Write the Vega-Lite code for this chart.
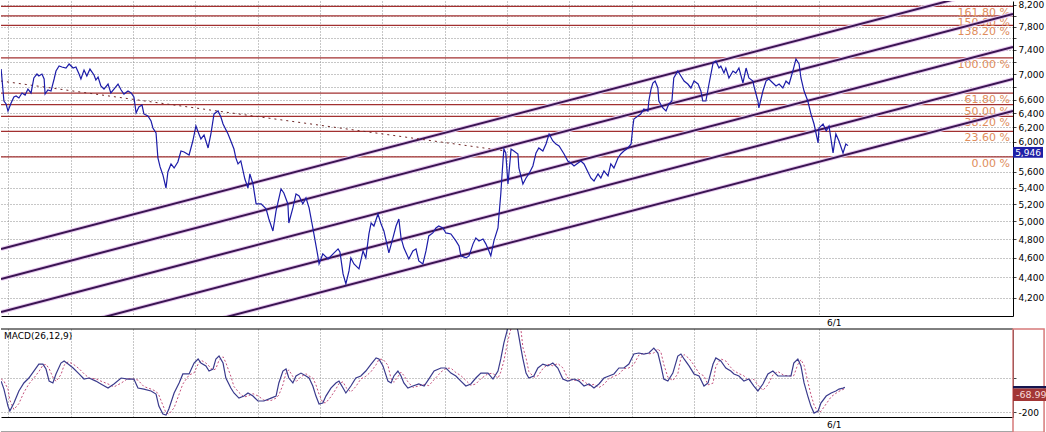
{
"$schema":"https://vega.github.io/schema/vega-lite/v6.json",
"padding":0,
"background":"white",
"spacing":13,
"bounds":"flush",
"config":{"view":{"stroke":null},"font":"DejaVu Sans","axis":{"labelFont":"DejaVu Sans"},"text":{"font":"DejaVu Sans"}},
"resolve":{"scale":{"x":"independent","y":"independent"}},
"datasets":{
"price":[{"t":-2.3,"price":7083},{"t":-1.4,"price":6584},{"t":-0.7,"price":6539},{"t":-0.1,"price":6435},{"t":0.9,"price":6554},{"t":1.8,"price":6645},{"t":2.5,"price":6660},{"t":3.4,"price":6630},{"t":4.4,"price":6706},{"t":5.4,"price":6675},{"t":6.3,"price":6767},{"t":7.3,"price":6706},{"t":8.2,"price":6940},{"t":9.2,"price":7003},{"t":9.8,"price":6971},{"t":10.8,"price":7003},{"t":11.5,"price":6924},{"t":11.8,"price":6690},{"t":12.7,"price":6752},{"t":13.7,"price":6736},{"t":14.7,"price":6924},{"t":15.3,"price":7051},{"t":16.3,"price":7132},{"t":17.2,"price":7116},{"t":18.5,"price":7100},{"t":19.5,"price":7165},{"t":20.8,"price":7100},{"t":21.7,"price":7116},{"t":22.7,"price":7003},{"t":23.3,"price":6924},{"t":24.3,"price":7067},{"t":25.2,"price":6971},{"t":26.2,"price":7083},{"t":27.5,"price":6987},{"t":28.1,"price":6908},{"t":28.8,"price":6956},{"t":29.7,"price":6814},{"t":30.7,"price":6767},{"t":32.0,"price":6845},{"t":32.9,"price":6706},{"t":33.9,"price":6767},{"t":35.2,"price":6845},{"t":36.2,"price":6752},{"t":37.1,"price":6690},{"t":38.4,"price":6736},{"t":39.4,"price":6706},{"t":40.3,"price":6645},{"t":41.0,"price":6406},{"t":41.9,"price":6495},{"t":42.9,"price":6524},{"t":43.5,"price":6392},{"t":44.8,"price":6362},{"t":45.8,"price":6290},{"t":46.4,"price":6191},{"t":47.4,"price":6120},{"t":48.0,"price":5781},{"t":48.7,"price":5663},{"t":49.6,"price":5560},{"t":50.6,"price":5397},{"t":51.2,"price":5598},{"t":52.2,"price":5702},{"t":53.2,"price":5650},{"t":54.4,"price":5728},{"t":55.4,"price":5873},{"t":56.4,"price":5860},{"t":58.0,"price":5820},{"t":59.2,"price":6009},{"t":60.2,"price":6219},{"t":60.9,"price":6134},{"t":61.8,"price":6037},{"t":62.8,"price":6092},{"t":64.1,"price":5914},{"t":65.0,"price":6106},{"t":66.0,"price":6392},{"t":67.3,"price":6435},{"t":68.2,"price":6348},{"t":68.9,"price":6247},{"t":70.5,"price":6106},{"t":71.4,"price":6009},{"t":72.4,"price":5900},{"t":73.0,"price":5781},{"t":73.7,"price":5702},{"t":74.6,"price":5741},{"t":75.9,"price":5509},{"t":76.9,"price":5397},{"t":77.5,"price":5573},{"t":78.5,"price":5447},{"t":79.5,"price":5204},{"t":81.1,"price":5204},{"t":82.7,"price":5145},{"t":83.6,"price":5028},{"t":84.9,"price":4892},{"t":85.9,"price":5121},{"t":87.5,"price":5385},{"t":88.4,"price":5336},{"t":89.7,"price":5204},{"t":90.0,"price":4982},{"t":91.3,"price":5157},{"t":92.3,"price":5324},{"t":93.3,"price":5300},{"t":94.5,"price":5204},{"t":95.5,"price":5276},{"t":96.5,"price":5157},{"t":97.7,"price":4926},{"t":99.3,"price":4621},{"t":99.7,"price":4537},{"t":100.9,"price":4642},{"t":102.6,"price":4589},{"t":104.2,"price":4642},{"t":105.8,"price":4696},{"t":106.4,"price":4663},{"t":107.4,"price":4435},{"t":108.3,"price":4335},{"t":109.3,"price":4465},{"t":109.9,"price":4600},{"t":110.9,"price":4537},{"t":112.5,"price":4486},{"t":113.8,"price":4674},{"t":114.7,"price":4600},{"t":115.7,"price":4859},{"t":116.4,"price":4982},{"t":117.3,"price":4948},{"t":118.6,"price":5086},{"t":119.6,"price":4971},{"t":120.5,"price":4892},{"t":122.1,"price":4653},{"t":123.4,"price":4815},{"t":124.4,"price":4948},{"t":125.3,"price":5028},{"t":126.0,"price":4815},{"t":126.9,"price":4707},{"t":128.5,"price":4589},{"t":129.8,"price":4674},{"t":130.8,"price":4696},{"t":131.7,"price":4568},{"t":133.0,"price":4537},{"t":134.0,"price":4674},{"t":134.9,"price":4837},{"t":136.2,"price":4870},{"t":137.2,"price":4926},{"t":138.1,"price":4948},{"t":139.4,"price":4926},{"t":140.4,"price":4870},{"t":142.0,"price":4859},{"t":143.6,"price":4782},{"t":144.6,"price":4728},{"t":145.2,"price":4621},{"t":146.8,"price":4600},{"t":147.8,"price":4621},{"t":149.1,"price":4750},{"t":150.0,"price":4815},{"t":151.0,"price":4782},{"t":152.3,"price":4804},{"t":153.2,"price":4750},{"t":154.2,"price":4674},{"t":154.8,"price":4621},{"t":155.8,"price":4782},{"t":157.1,"price":4926},{"t":157.4,"price":5063},{"t":158.0,"price":5324},{"t":158.7,"price":5741},{"t":159.0,"price":5900},{"t":159.6,"price":5847},{"t":160.3,"price":5447},{"t":160.6,"price":5573},{"t":161.3,"price":5900},{"t":162.2,"price":5873},{"t":163.5,"price":5833},{"t":163.8,"price":5650},{"t":165.1,"price":5447},{"t":166.1,"price":5522},{"t":167.0,"price":5573},{"t":168.3,"price":5676},{"t":169.3,"price":5847},{"t":170.2,"price":5914},{"t":171.5,"price":5873},{"t":172.5,"price":5968},{"t":173.5,"price":6106},{"t":174.7,"price":6009},{"t":175.7,"price":5968},{"t":176.7,"price":5941},{"t":178.3,"price":5833},{"t":179.5,"price":5741},{"t":180.5,"price":5715},{"t":181.5,"price":5676},{"t":182.8,"price":5715},{"t":183.7,"price":5741},{"t":184.7,"price":5702},{"t":186.9,"price":5522},{"t":187.9,"price":5484},{"t":189.2,"price":5573},{"t":190.1,"price":5522},{"t":191.1,"price":5611},{"t":192.4,"price":5547},{"t":193.3,"price":5702},{"t":194.3,"price":5650},{"t":195.6,"price":5781},{"t":196.5,"price":5833},{"t":197.5,"price":5873},{"t":198.8,"price":5914},{"t":199.8,"price":5968},{"t":200.4,"price":6219},{"t":200.7,"price":6319},{"t":202.0,"price":6362},{"t":202.9,"price":6392},{"t":203.9,"price":6465},{"t":205.2,"price":6435},{"t":205.5,"price":6584},{"t":206.2,"price":6767},{"t":206.8,"price":6861},{"t":207.5,"price":6892},{"t":208.4,"price":6783},{"t":208.7,"price":6584},{"t":210.0,"price":6480},{"t":211.0,"price":6435},{"t":211.9,"price":6539},{"t":212.9,"price":6584},{"t":213.5,"price":6940},{"t":214.8,"price":7051},{"t":215.8,"price":6971},{"t":216.8,"price":6892},{"t":218.0,"price":6845},{"t":219.0,"price":6783},{"t":220.0,"price":6892},{"t":221.3,"price":6845},{"t":222.2,"price":6736},{"t":222.8,"price":6584},{"t":223.8,"price":6584},{"t":224.8,"price":6845},{"t":226.1,"price":7181},{"t":227.0,"price":7214},{"t":228.0,"price":7100},{"t":228.6,"price":7132},{"t":229.6,"price":7019},{"t":230.2,"price":7100},{"t":231.2,"price":6940},{"t":232.5,"price":7051},{"t":233.4,"price":7019},{"t":234.4,"price":7100},{"t":235.7,"price":6861},{"t":236.7,"price":7100},{"t":237.6,"price":6940},{"t":238.9,"price":6892},{"t":239.2,"price":6814},{"t":240.5,"price":6584},{"t":240.8,"price":6480},{"t":242.1,"price":6736},{"t":243.1,"price":6892},{"t":244.0,"price":6924},{"t":245.3,"price":6861},{"t":246.3,"price":6814},{"t":247.3,"price":6845},{"t":248.5,"price":6783},{"t":249.5,"price":6892},{"t":250.5,"price":6845},{"t":251.7,"price":7051},{"t":252.7,"price":7247},{"t":253.7,"price":7165},{"t":254.3,"price":6940},{"t":255.3,"price":6736},{"t":256.5,"price":6584},{"t":257.5,"price":6392},{"t":258.5,"price":6247},{"t":259.8,"price":5982},{"t":260.1,"price":6191},{"t":261.4,"price":6247},{"t":262.4,"price":6148},{"t":263.3,"price":6219},{"t":264.6,"price":5847},{"t":265.5,"price":6106},{"t":266.5,"price":6009},{"t":267.8,"price":5847},{"t":268.7,"price":5968},{"t":269.4,"price":5946}],
"macd":[{"t":-2.3,"macd":-18,"signal":-5},{"t":-1.4,"macd":-65,"signal":-18},{"t":-0.1,"macd":-165,"signal":-65},{"t":0.5,"macd":-194,"signal":-130},{"t":1.8,"macd":-147,"signal":-185},{"t":3.4,"macd":-76,"signal":-150},{"t":5.0,"macd":-29,"signal":-85},{"t":6.6,"macd":0,"signal":-35},{"t":8.2,"macd":41,"signal":0},{"t":9.8,"macd":82,"signal":38},{"t":11.1,"macd":82,"signal":75},{"t":12.1,"macd":53,"signal":80},{"t":13.1,"macd":-18,"signal":55},{"t":14.3,"macd":-29,"signal":5},{"t":15.3,"macd":24,"signal":-20},{"t":16.9,"macd":88,"signal":20},{"t":17.9,"macd":100,"signal":75},{"t":19.2,"macd":82,"signal":95},{"t":20.8,"macd":59,"signal":82},{"t":22.7,"macd":24,"signal":55},{"t":24.3,"macd":-6,"signal":25},{"t":25.9,"macd":0,"signal":0},{"t":28.1,"macd":-18,"signal":-5},{"t":29.7,"macd":-35,"signal":-18},{"t":32.0,"macd":-59,"signal":-35},{"t":33.9,"macd":-35,"signal":-52},{"t":36.2,"macd":0,"signal":-30},{"t":38.4,"macd":-6,"signal":-3},{"t":40.3,"macd":-6,"signal":-6},{"t":41.6,"macd":-59,"signal":-12},{"t":43.5,"macd":-65,"signal":-50},{"t":45.8,"macd":-76,"signal":-65},{"t":47.4,"macd":-94,"signal":-78},{"t":48.3,"macd":-165,"signal":-100},{"t":49.6,"macd":-212,"signal":-160},{"t":50.6,"macd":-218,"signal":-205},{"t":51.5,"macd":-182,"signal":-212},{"t":53.2,"macd":-88,"signal":-175},{"t":54.8,"macd":-29,"signal":-95},{"t":56.0,"macd":24,"signal":-35},{"t":58.0,"macd":24,"signal":18},{"t":59.6,"macd":88,"signal":30},{"t":60.9,"macd":112,"signal":82},{"t":61.8,"macd":88,"signal":105},{"t":63.4,"macd":71,"signal":88},{"t":64.4,"macd":41,"signal":70},{"t":65.7,"macd":53,"signal":45},{"t":66.6,"macd":112,"signal":55},{"t":67.6,"macd":129,"signal":105},{"t":68.9,"macd":88,"signal":125},{"t":69.8,"macd":0,"signal":90},{"t":71.4,"macd":-59,"signal":10},{"t":72.4,"macd":-88,"signal":-50},{"t":74.0,"macd":-118,"signal":-85},{"t":75.6,"macd":-106,"signal":-112},{"t":76.9,"macd":-88,"signal":-105},{"t":78.5,"macd":-106,"signal":-92},{"t":80.1,"macd":-135,"signal":-105},{"t":82.0,"macd":-135,"signal":-130},{"t":84.3,"macd":-118,"signal":-132},{"t":85.9,"macd":-106,"signal":-118},{"t":86.8,"macd":-29,"signal":-100},{"t":88.1,"macd":41,"signal":-40},{"t":89.1,"macd":53,"signal":30},{"t":90.0,"macd":0,"signal":48},{"t":91.3,"macd":-29,"signal":8},{"t":92.3,"macd":12,"signal":-22},{"t":93.9,"macd":29,"signal":8},{"t":95.5,"macd":12,"signal":25},{"t":96.5,"macd":0,"signal":12},{"t":97.7,"macd":-47,"signal":0},{"t":98.7,"macd":-106,"signal":-40},{"t":99.7,"macd":-153,"signal":-95},{"t":100.9,"macd":-147,"signal":-145},{"t":101.9,"macd":-106,"signal":-145},{"t":103.5,"macd":-59,"signal":-110},{"t":105.1,"macd":-29,"signal":-65},{"t":106.1,"macd":-18,"signal":-32},{"t":107.4,"macd":-59,"signal":-22},{"t":108.3,"macd":-88,"signal":-55},{"t":109.9,"macd":-47,"signal":-82},{"t":111.5,"macd":0,"signal":-50},{"t":113.1,"macd":12,"signal":-5},{"t":114.7,"macd":41,"signal":10},{"t":116.4,"macd":82,"signal":38},{"t":118.0,"macd":118,"signal":78},{"t":118.9,"macd":112,"signal":110},{"t":120.2,"macd":71,"signal":110},{"t":121.8,"macd":-18,"signal":75},{"t":122.8,"macd":-29,"signal":-5},{"t":123.7,"macd":12,"signal":-25},{"t":125.0,"macd":41,"signal":8},{"t":126.0,"macd":12,"signal":35},{"t":126.9,"macd":-29,"signal":15},{"t":128.2,"macd":-59,"signal":-22},{"t":129.8,"macd":-47,"signal":-55},{"t":131.7,"macd":-35,"signal":-47},{"t":133.4,"macd":-47,"signal":-37},{"t":134.9,"macd":-6,"signal":-45},{"t":136.6,"macd":41,"signal":-10},{"t":138.8,"macd":59,"signal":35},{"t":140.4,"macd":59,"signal":57},{"t":142.0,"macd":29,"signal":58},{"t":143.6,"macd":12,"signal":32},{"t":145.2,"macd":-18,"signal":14},{"t":146.8,"macd":-47,"signal":-14},{"t":148.4,"macd":-35,"signal":-43},{"t":150.0,"macd":0,"signal":-35},{"t":151.6,"macd":29,"signal":-4},{"t":153.9,"macd":29,"signal":25},{"t":155.5,"macd":-6,"signal":28},{"t":157.1,"macd":41,"signal":-2},{"t":158.0,"macd":112,"signal":35},{"t":159.0,"macd":206,"signal":100},{"t":160.0,"macd":276,"signal":195},{"t":160.9,"macd":365,"signal":265},{"t":162.2,"macd":365,"signal":350},{"t":163.5,"macd":276,"signal":360},{"t":164.5,"macd":171,"signal":280},{"t":165.1,"macd":112,"signal":180},{"t":166.1,"macd":29,"signal":118},{"t":167.0,"macd":0,"signal":38},{"t":168.6,"macd":12,"signal":5},{"t":169.9,"macd":59,"signal":12},{"t":171.5,"macd":82,"signal":55},{"t":173.1,"macd":71,"signal":80},{"t":174.7,"macd":88,"signal":72},{"t":176.3,"macd":59,"signal":85},{"t":177.9,"macd":-6,"signal":60},{"t":179.5,"macd":-18,"signal":0},{"t":181.5,"macd":-6,"signal":-15},{"t":183.1,"macd":-18,"signal":-8},{"t":184.7,"macd":-47,"signal":-18},{"t":186.3,"macd":-35,"signal":-44},{"t":187.9,"macd":-59,"signal":-37},{"t":189.5,"macd":-35,"signal":-56},{"t":191.1,"macd":0,"signal":-37},{"t":192.7,"macd":12,"signal":-3},{"t":194.3,"macd":24,"signal":10},{"t":195.9,"macd":59,"signal":22},{"t":197.5,"macd":59,"signal":55},{"t":199.1,"macd":82,"signal":59},{"t":200.7,"macd":141,"signal":80},{"t":202.3,"macd":147,"signal":135},{"t":203.9,"macd":141,"signal":146},{"t":205.5,"macd":147,"signal":142},{"t":207.1,"macd":176,"signal":147},{"t":208.4,"macd":147,"signal":172},{"t":209.4,"macd":71,"signal":150},{"t":210.3,"macd":-6,"signal":80},{"t":211.6,"macd":-18,"signal":5},{"t":213.2,"macd":29,"signal":-15},{"t":214.8,"macd":129,"signal":25},{"t":215.8,"macd":141,"signal":120},{"t":216.8,"macd":112,"signal":138},{"t":218.4,"macd":71,"signal":115},{"t":220.0,"macd":24,"signal":75},{"t":221.6,"macd":12,"signal":28},{"t":223.2,"macd":-47,"signal":12},{"t":224.5,"macd":-29,"signal":-40},{"t":226.1,"macd":82,"signal":-30},{"t":227.0,"macd":118,"signal":70},{"t":228.6,"macd":100,"signal":112},{"t":230.2,"macd":59,"signal":100},{"t":231.8,"macd":41,"signal":62},{"t":232.8,"macd":24,"signal":43},{"t":234.4,"macd":12,"signal":26},{"t":236.0,"macd":-18,"signal":13},{"t":237.6,"macd":-6,"signal":-15},{"t":239.2,"macd":-47,"signal":-8},{"t":240.5,"macd":-76,"signal":-42},{"t":242.1,"macd":-35,"signal":-72},{"t":243.7,"macd":24,"signal":-40},{"t":245.3,"macd":41,"signal":18},{"t":246.9,"macd":12,"signal":38},{"t":248.9,"macd":12,"signal":15},{"t":251.1,"macd":12,"signal":12},{"t":252.0,"macd":88,"signal":14},{"t":253.3,"macd":112,"signal":80},{"t":254.3,"macd":71,"signal":108},{"t":255.3,"macd":-29,"signal":75},{"t":256.5,"macd":-106,"signal":-20},{"t":257.5,"macd":-165,"signal":-98},{"t":258.5,"macd":-206,"signal":-158},{"t":259.8,"macd":-194,"signal":-202},{"t":260.7,"macd":-147,"signal":-196},{"t":262.4,"macd":-106,"signal":-152},{"t":264.0,"macd":-88,"signal":-110},{"t":265.5,"macd":-76,"signal":-90},{"t":266.5,"macd":-65,"signal":-78},{"t":267.8,"macd":-59,"signal":-67},{"t":268.4,"macd":-55,"signal":-62}],
"fib":[{"price":5796,"label":"0.00 %"},{"price":6143,"label":"23.60 %"},{"price":6357,"label":"38.20 %"},{"price":6531,"label":"50.00 %"},{"price":6704,"label":"61.80 %"},{"price":7265,"label":"100.00 %"},{"price":7826,"label":"138.20 %"},{"price":8000,"label":"150.00 %"},{"price":8173,"label":"161.80 %"}],
"channels":[{"id":1,"t":-2.34,"price":4694},{"id":1,"t":322.33,"price":8603},{"id":2,"t":-2.34,"price":4384},{"id":2,"t":322.33,"price":8033},{"id":3,"t":-2.34,"price":4065},{"id":3,"t":322.33,"price":7449},{"id":4,"t":-2.34,"price":3778},{"id":4,"t":322.33,"price":6924},{"id":5,"t":-2.34,"price":3512},{"id":5,"t":322.33,"price":6435}],
"trend":[{"t":-2.34,"price":6892},{"t":159.6,"price":5873}],
"last":[{"price":5946,"label":"5,946"}],
"lastm":[{"macd":-68.99,"label":"-68.99"}]
},
"vconcat":[
{
"width":1012,"height":315,
"layer":[
{"data":{"name":"fib"},"mark":{"type":"rule","color":"#A23030","strokeWidth":1.2},
 "encoding":{"y":{"field":"price","type":"quantitative","scale":{"type":"log","domain":[4028,8275],"nice":false},
  "axis":{"orient":"right","title":null,"values":[4200,4400,4600,4800,5000,5200,5400,5600,5800,6000,6200,6400,6600,6800,7000,7200,7400,7600,7800,8000,8200],"format":",d","labelExpr":"indexof([8000,7600,7200,6800,5800], datum.value) >= 0 ? '' : datum.label","labelOverlap":false,"labelBound":false,"grid":true,"gridDash":[1,2],"gridColor":"#8f8f8f","gridOpacity":1,"domainColor":"#000000","tickColor":"#444444","tickSize":3,"labelFontSize":9,"labelPadding":2,"labelColor":"#000000"}}}},
{"data":{"name":"fib"},"mark":{"type":"text","align":"right","baseline":"top","dx":-3,"dy":1,"fontSize":11,"color":"#E08D5C"},
 "encoding":{"x":{"value":"width"},"y":{"field":"price","type":"quantitative"},"text":{"field":"label"}}},
{"data":{"name":"channels"},"mark":{"type":"line","clip":true,"strokeWidth":4,"color":"#E6C8EE"},
 "encoding":{"x":{"field":"t","type":"quantitative","scale":{"domain":[-2.34,322.33],"nice":false,"zero":false},
  "axis":{"orient":"bottom","title":null,"values":[0,5,10,15,20,25,30,35,40,45,50,55,60,65,70,75,80,85,90,95,100,105,110,115,120,125,130,135,140,145,150,155,160,165,170,175,180,185,190,195,200,205,210,215,220,225,230,235,240,245,250,255,260,265],"labels":false,"grid":true,"gridDash":[1,2],"gridColor":"#8f8f8f","gridOpacity":1,"ticks":false,"domainColor":"#000000"}},
  "y":{"field":"price","type":"quantitative"},"detail":{"field":"id"}}},
{"data":{"name":"channels"},"mark":{"type":"line","clip":true,"strokeWidth":2,"color":"#3A1552"},
 "encoding":{"x":{"field":"t","type":"quantitative"},"y":{"field":"price","type":"quantitative"},"detail":{"field":"id"}}},
{"data":{"name":"trend"},"mark":{"type":"line","clip":true,"strokeWidth":1,"strokeDash":[2,4],"color":"#6E2626"},
 "encoding":{"x":{"field":"t","type":"quantitative"},"y":{"field":"price","type":"quantitative"}}},
{"data":{"name":"price"},"mark":{"type":"line","clip":true,"strokeWidth":1.2,"color":"#1C1CA8"},
 "encoding":{"x":{"field":"t","type":"quantitative"},"y":{"field":"price","type":"quantitative"}}},
{"data":{"name":"last"},"mark":{"type":"point","shape":"M 0 0.09 L 2 0.09 L 2 0.81 L 0 0.81 Z","size":900,"filled":true,"color":"#1F1FA6","opacity":1,"strokeWidth":0},
 "encoding":{"x":{"value":"width"},"y":{"field":"price","type":"quantitative"}}},
{"data":{"name":"last"},"mark":{"type":"text","align":"center","baseline":"middle","dx":15,"dy":7,"fontSize":9,"color":"#ffffff"},
 "encoding":{"x":{"value":"width"},"y":{"field":"price","type":"quantitative"},"text":{"field":"label"}}},
{"data":{"name":"last"},"mark":{"type":"text","align":"center","baseline":"middle","fontSize":9,"color":"#000000"},
 "encoding":{"x":{"datum":265},"y":{"datum":3964},"text":{"value":"6/1"}}}
]
},
{
"width":1012,"height":88,
"layer":[
{"data":{"name":"macd"},"mark":{"type":"line","clip":true,"strokeWidth":1,"strokeDash":[2,2],"color":"#C4507C"},
 "encoding":{"x":{"field":"t","type":"quantitative","scale":{"domain":[-2.34,322.33],"nice":false,"zero":false},
  "axis":{"orient":"bottom","title":null,"values":[0,5,10,15,20,25,30,35,40,45,50,55,60,65,70,75,80,85,90,95,100,105,110,115,120,125,130,135,140,145,150,155,160,165,170,175,180,185,190,195,200,205,210,215,220,225,230,235,240,245,250,255,260,265],"labels":false,"grid":true,"gridDash":[1,2],"gridColor":"#8f8f8f","gridOpacity":1,"ticks":false,"domainColor":"#000000"}},
  "y":{"field":"signal","type":"quantitative","scale":{"domain":[-229,288],"nice":false,"zero":false},
  "axis":{"orient":"right","title":null,"values":[0,-200],"labelExpr":"datum.value == -200 ? '-200' : ''","grid":true,"gridDash":[1,2],"gridColor":"#8f8f8f","gridOpacity":1,"domainColor":"#000000","tickColor":"#444444","tickSize":3,"labelFontSize":9,"labelPadding":2,"labelColor":"#000000"}}}},
{"data":{"name":"macd"},"mark":{"type":"line","clip":true,"strokeWidth":1.2,"color":"#3A3A8C"},
 "encoding":{"x":{"field":"t","type":"quantitative"},"y":{"field":"macd","type":"quantitative"}}},
{"data":{"name":"lastm"},"mark":{"type":"rule","color":"#000000","strokeWidth":1},"encoding":{"y":{"datum":288}}},
{"data":{"name":"lastm"},"mark":{"type":"rule","color":"#000000","strokeWidth":1},"encoding":{"y":{"datum":-318}}},
{"data":{"name":"lastm"},"mark":{"type":"rect","fill":"#ffffff","fillOpacity":0,"stroke":"#D67A7A","strokeWidth":1.5},
 "encoding":{"x":{"datum":322.33},"x2":{"datum":332.3},"y":{"datum":288},"y2":{"datum":-318}}},
{"data":{"name":"lastm"},"mark":{"type":"point","shape":"M 0 -0.22 L 2 -0.22 L 2 -0.08 L 0 -0.08 Z","size":1156,"filled":true,"color":"#15154F","opacity":1,"strokeWidth":0},
 "encoding":{"x":{"value":"width"},"y":{"field":"macd","type":"quantitative"}}},
{"data":{"name":"lastm"},"mark":{"type":"point","shape":"M 0 -0.08 L 2 -0.08 L 2 0.66 L 0 0.66 Z","size":1156,"filled":true,"color":"#A33535","opacity":1,"strokeWidth":0},
 "encoding":{"x":{"value":"width"},"y":{"field":"macd","type":"quantitative"}}},
{"data":{"name":"lastm"},"mark":{"type":"text","align":"left","baseline":"middle","dx":3,"dy":5,"fontSize":9.5,"color":"#F6DADA"},
 "encoding":{"x":{"value":"width"},"y":{"field":"macd","type":"quantitative"},"text":{"field":"label"}}},
{"data":{"name":"lastm"},"mark":{"type":"text","align":"left","baseline":"top","dx":3,"dy":3,"fontSize":9,"color":"#000000"},
 "encoding":{"x":{"datum":-2.34},"y":{"datum":288},"text":{"value":"MACD(26,12,9)"}}},
{"data":{"name":"lastm"},"mark":{"type":"text","align":"center","baseline":"middle","fontSize":9,"color":"#000000"},
 "encoding":{"x":{"datum":265},"y":{"datum":-276},"text":{"value":"6/1"}}}
]
}
]
}
